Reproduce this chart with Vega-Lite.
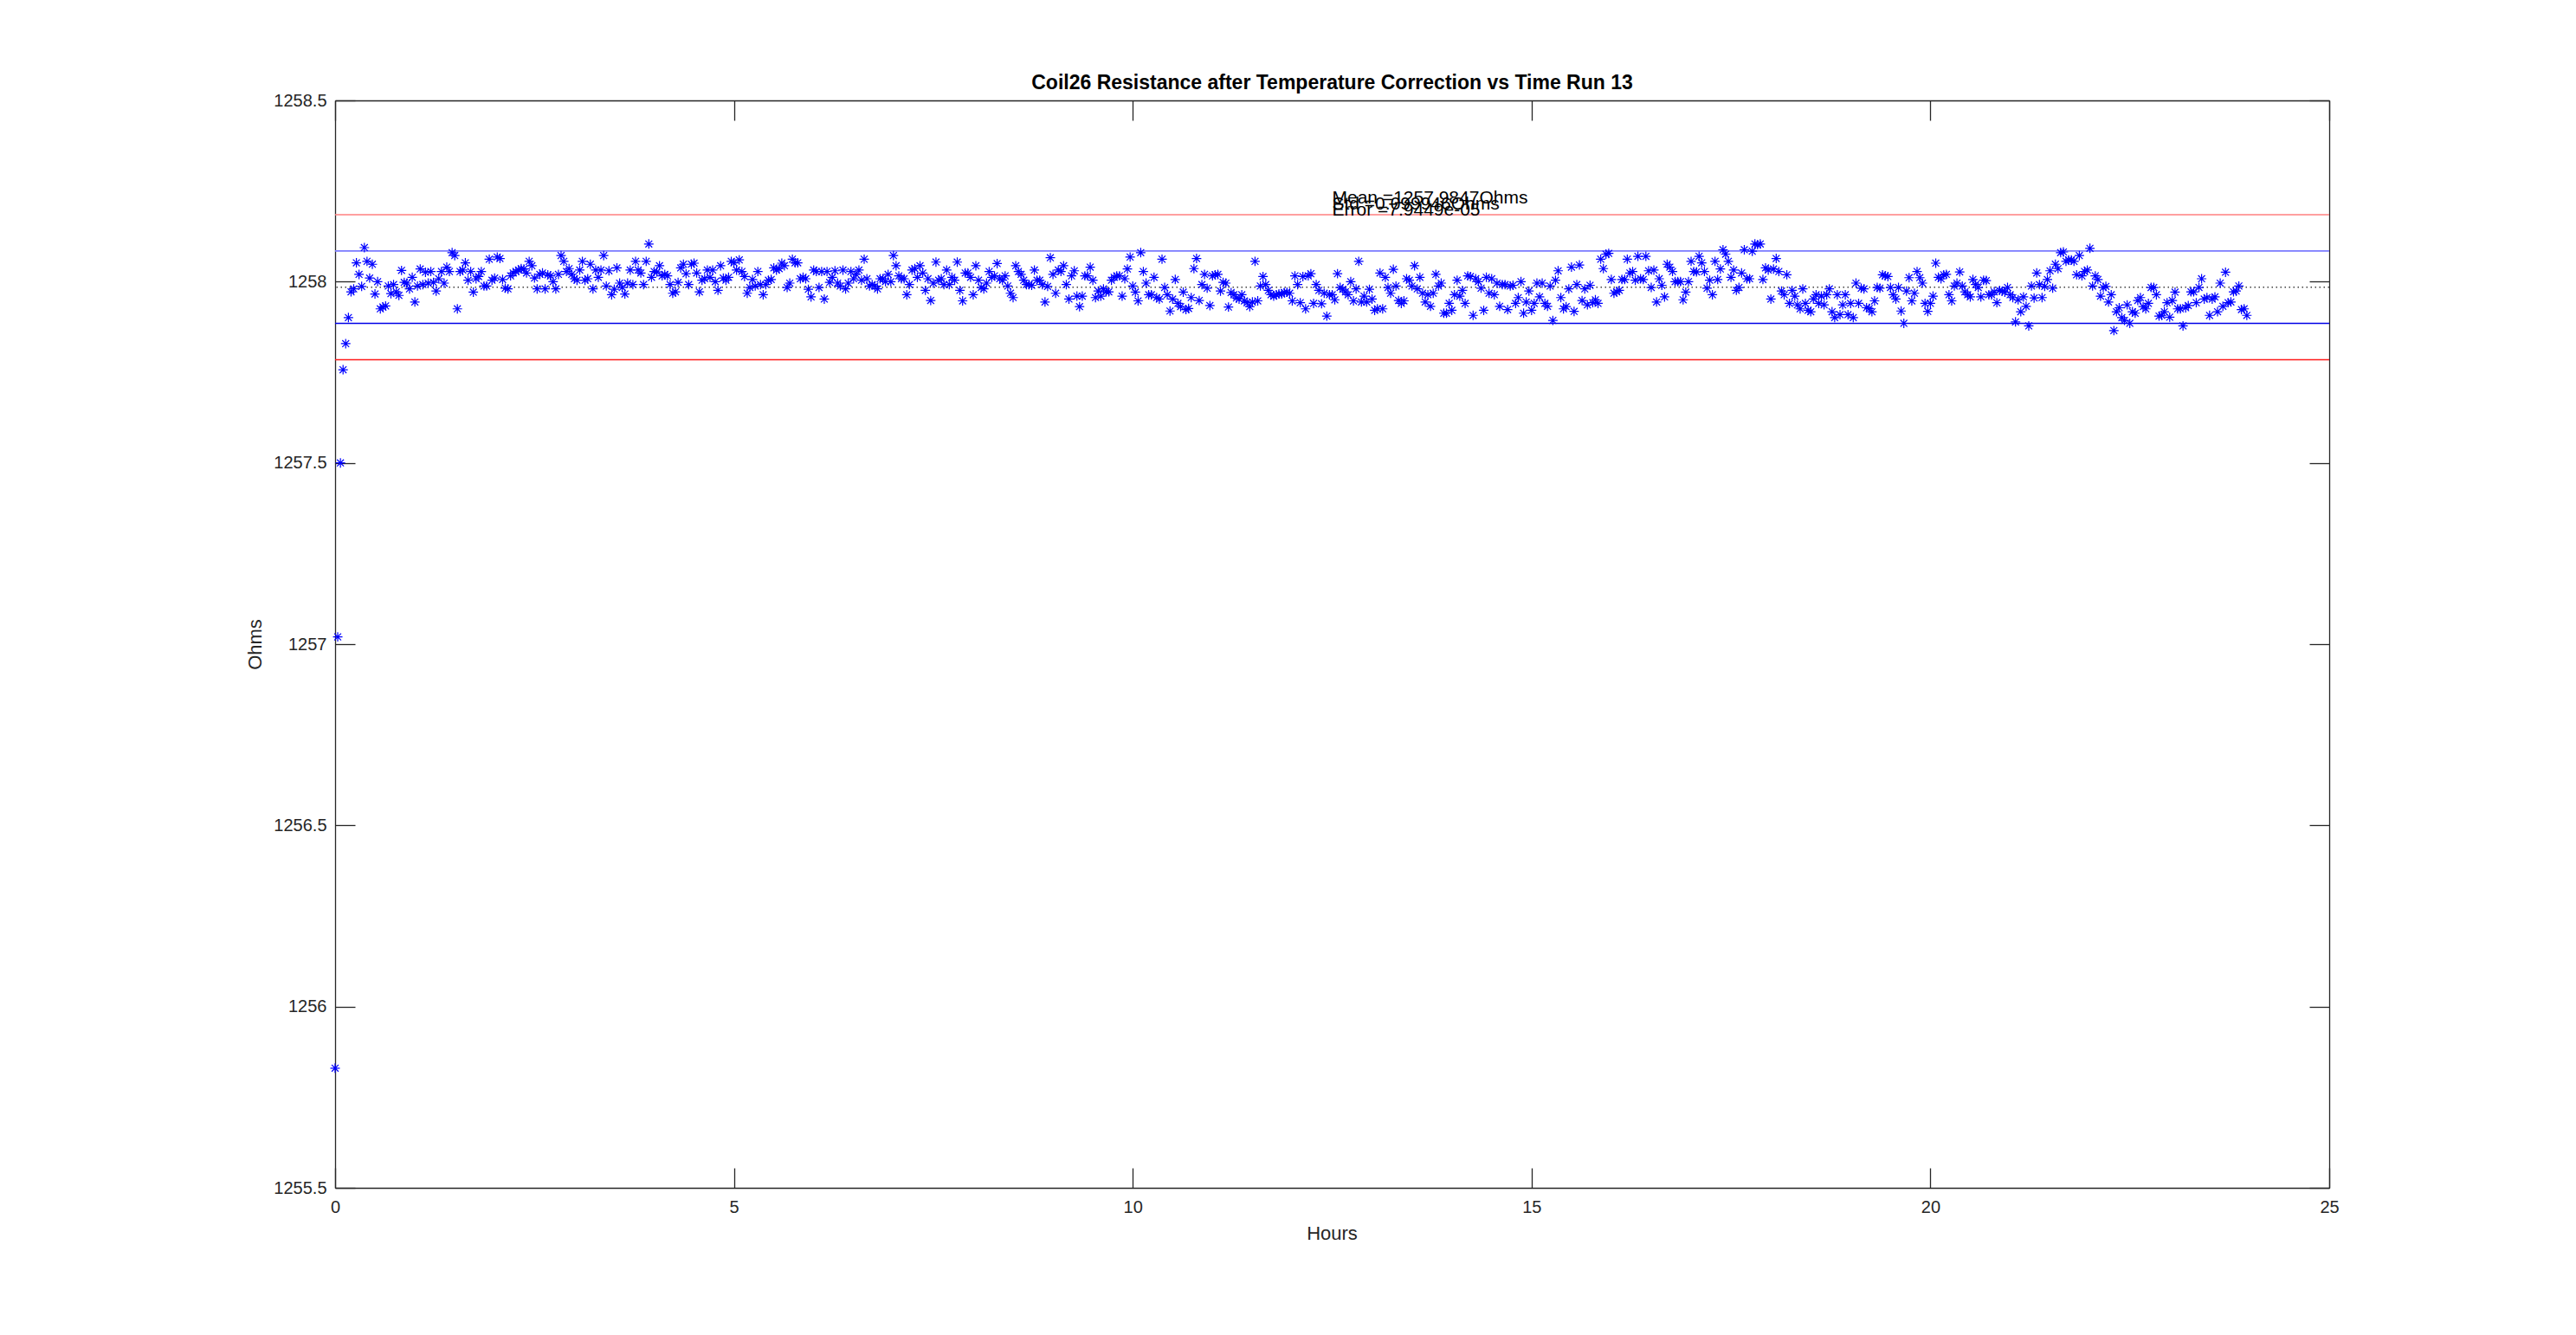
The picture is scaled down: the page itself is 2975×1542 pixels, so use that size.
{
"$schema":"https://vega.github.io/schema/vega-lite/v6.json",
"width":2303,"height":1256,
"autosize":{"type":"none"},
"padding":{"left":387,"top":116,"right":285,"bottom":170},
"background":"white",
"config":{"view":{"stroke":null},"font":"Liberation Sans"},
"title":{"text":"Coil26 Resistance after Temperature Correction vs Time Run 13","fontSize":23,"fontWeight":"bold","font":"Liberation Sans","color":"#000000","anchor":"middle","offset":13,"dy":38,"baseline":"bottom"},
"datasets":{
"lines":[{"v":1258.1846,"k":"u2"},{"v":1258.0846,"k":"u1"},{"v":1257.8848,"k":"l1"},{"v":1257.7848,"k":"l2"}],
"mean":[{"v":1257.9847}],
"notes":[{"x":12.5,"y":1258.216,"s":"Mean =1257.9847Ohms"},{"x":12.5,"y":1258.198,"s":"Std =0.099946Ohms"},{"x":12.5,"y":1258.182,"s":"Error =7.9449e-05"}],
"pts":[
{"t":0,"r":1255.83},{"t":0.033,"r":1257.02},{"t":0.067,"r":1257.50},{"t":0.1,"r":1257.757},{"t":0.133,"r":1257.829},{"t":0.167,"r":1257.901},
{"t":0.2,"r":1257.972},{"t":0.233,"r":1257.980},{"t":0.267,"r":1258.052},{"t":0.3,"r":1258.020},{"t":0.333,"r":1257.987},{"t":0.367,"r":1258.094},{"t":0.4,"r":1258.056},{"t":0.433,"r":1258.010},{"t":0.467,"r":1258.048},{"t":0.5,"r":1257.966},
{"t":0.533,"r":1258.000},{"t":0.567,"r":1257.925},{"t":0.6,"r":1257.930},{"t":0.633,"r":1257.933},{"t":0.667,"r":1257.988},{"t":0.7,"r":1257.967},{"t":0.733,"r":1257.992},{"t":0.767,"r":1257.972},{"t":0.8,"r":1257.962},{"t":0.833,"r":1258.031},
{"t":0.867,"r":1257.998},{"t":0.9,"r":1257.996},{"t":0.933,"r":1257.980},{"t":0.967,"r":1258.012},{"t":1.0,"r":1257.944},{"t":1.033,"r":1257.988},{"t":1.067,"r":1258.035},{"t":1.1,"r":1257.992},{"t":1.133,"r":1258.026},{"t":1.167,"r":1257.996},
{"t":1.2,"r":1258.028},{"t":1.233,"r":1257.998},{"t":1.267,"r":1257.974},{"t":1.3,"r":1258.008},{"t":1.333,"r":1258.028},{"t":1.367,"r":1257.996},{"t":1.4,"r":1258.040},{"t":1.433,"r":1258.028},{"t":1.467,"r":1258.080},{"t":1.5,"r":1258.072},
{"t":1.533,"r":1257.925},{"t":1.567,"r":1258.028},{"t":1.6,"r":1258.032},{"t":1.633,"r":1258.052},{"t":1.667,"r":1258.004},{"t":1.7,"r":1258.028},{"t":1.733,"r":1257.971},{"t":1.767,"r":1258.008},{"t":1.8,"r":1258.014},{"t":1.833,"r":1258.028},
{"t":1.867,"r":1257.988},{"t":1.9,"r":1257.988},{"t":1.933,"r":1258.062},{"t":1.967,"r":1258.004},{"t":2.0,"r":1258.010},{"t":2.033,"r":1258.068},{"t":2.067,"r":1258.064},{"t":2.1,"r":1258.006},{"t":2.133,"r":1257.982},{"t":2.167,"r":1257.980},
{"t":2.2,"r":1258.016},{"t":2.233,"r":1258.024},{"t":2.267,"r":1258.028},{"t":2.3,"r":1258.032},{"t":2.333,"r":1258.036},{"t":2.367,"r":1258.035},{"t":2.4,"r":1258.024},{"t":2.433,"r":1258.056},{"t":2.467,"r":1258.044},{"t":2.5,"r":1258.010},
{"t":2.533,"r":1257.980},{"t":2.567,"r":1258.020},{"t":2.6,"r":1258.024},{"t":2.633,"r":1257.980},{"t":2.667,"r":1258.019},{"t":2.7,"r":1258.016},{"t":2.733,"r":1258.000},{"t":2.767,"r":1257.980},{"t":2.8,"r":1258.020},{"t":2.833,"r":1258.072},
{"t":2.867,"r":1258.056},{"t":2.9,"r":1258.028},{"t":2.933,"r":1258.036},{"t":2.967,"r":1258.020},{"t":3.0,"r":1258.008},{"t":3.033,"r":1258.004},{"t":3.067,"r":1258.032},{"t":3.1,"r":1258.056},{"t":3.133,"r":1258.004},{"t":3.167,"r":1258.008},
{"t":3.2,"r":1258.048},{"t":3.233,"r":1257.980},{"t":3.267,"r":1258.032},{"t":3.3,"r":1258.012},{"t":3.333,"r":1258.032},{"t":3.367,"r":1258.072},{"t":3.4,"r":1257.988},{"t":3.433,"r":1258.030},{"t":3.467,"r":1257.964},
{"t":3.5,"r":1257.979},{"t":3.533,"r":1258.038},{"t":3.567,"r":1257.996},{"t":3.6,"r":1257.984},{"t":3.633,"r":1257.966},{"t":3.667,"r":1257.996},{"t":3.7,"r":1258.032},{"t":3.733,"r":1257.992},{"t":3.767,"r":1258.056},{"t":3.8,"r":1258.032},
{"t":3.833,"r":1258.024},{"t":3.867,"r":1257.992},{"t":3.9,"r":1258.056},{"t":3.933,"r":1258.104},{"t":3.967,"r":1258.012},{"t":4.0,"r":1258.028},{"t":4.033,"r":1258.027},{"t":4.067,"r":1258.044},{"t":4.1,"r":1258.016},{"t":4.133,"r":1258.020},
{"t":4.167,"r":1258.016},{"t":4.2,"r":1257.992},{"t":4.233,"r":1257.968},{"t":4.267,"r":1257.972},{"t":4.3,"r":1257.998},{"t":4.333,"r":1258.038},{"t":4.367,"r":1258.048},{"t":4.4,"r":1258.022},{"t":4.433,"r":1257.992},{"t":4.467,"r":1258.048},
{"t":4.5,"r":1258.051},{"t":4.533,"r":1258.024},{"t":4.567,"r":1257.972},{"t":4.6,"r":1258.004},{"t":4.633,"r":1258.008},{"t":4.667,"r":1258.032},{"t":4.7,"r":1258.012},{"t":4.733,"r":1258.032},{"t":4.767,"r":1258.000},{"t":4.8,"r":1257.976},
{"t":4.833,"r":1258.044},{"t":4.867,"r":1258.010},{"t":4.9,"r":1258.004},{"t":4.933,"r":1258.012},{"t":4.967,"r":1258.056},{"t":5.0,"r":1258.052},{"t":5.033,"r":1258.032},{"t":5.067,"r":1258.060},{"t":5.1,"r":1258.028},{"t":5.133,"r":1258.014},
{"t":5.167,"r":1257.968},{"t":5.2,"r":1257.984},{"t":5.233,"r":1258.006},{"t":5.267,"r":1257.988},{"t":5.3,"r":1258.028},{"t":5.333,"r":1257.992},{"t":5.367,"r":1257.964},{"t":5.4,"r":1257.992},{"t":5.433,"r":1258.004},{"t":5.467,"r":1258.006},
{"t":5.5,"r":1258.038},{"t":5.533,"r":1258.032},{"t":5.567,"r":1258.036},{"t":5.6,"r":1258.051},{"t":5.633,"r":1258.044},{"t":5.667,"r":1257.984},{"t":5.7,"r":1257.996},{"t":5.733,"r":1258.062},{"t":5.767,"r":1258.052},{"t":5.8,"r":1258.052},
{"t":5.833,"r":1258.008},{"t":5.867,"r":1258.012},{"t":5.9,"r":1258.008},{"t":5.933,"r":1257.979},{"t":5.967,"r":1257.958},{"t":6.0,"r":1258.032},{"t":6.033,"r":1258.028},{"t":6.067,"r":1257.984},{"t":6.1,"r":1258.028},{"t":6.133,"r":1257.952},
{"t":6.167,"r":1258.028},{"t":6.2,"r":1257.998},{"t":6.233,"r":1258.012},{"t":6.267,"r":1258.030},{"t":6.3,"r":1257.996},{"t":6.333,"r":1257.988},{"t":6.367,"r":1258.032},{"t":6.4,"r":1257.980},{"t":6.433,"r":1257.996},{"t":6.467,"r":1258.028},
{"t":6.5,"r":1258.008},{"t":6.533,"r":1258.020},{"t":6.567,"r":1258.032},{"t":6.6,"r":1258.004},{"t":6.633,"r":1258.062},{"t":6.667,"r":1258.008},{"t":6.7,"r":1257.988},{"t":6.733,"r":1257.992},{"t":6.767,"r":1257.988},{"t":6.8,"r":1257.980},
{"t":6.833,"r":1258.008},{"t":6.867,"r":1258.008},{"t":6.9,"r":1258.000},{"t":6.933,"r":1258.020},
{"t":6.967,"r":1258.000},{"t":7.0,"r":1258.072},{"t":7.033,"r":1258.044},{"t":7.067,"r":1258.016},{"t":7.1,"r":1258.008},{"t":7.133,"r":1258.008},{"t":7.167,"r":1257.964},{"t":7.2,"r":1257.992},{"t":7.233,"r":1258.032},{"t":7.267,"r":1258.036},
{"t":7.3,"r":1258.012},{"t":7.333,"r":1258.044},{"t":7.367,"r":1258.024},{"t":7.4,"r":1257.976},{"t":7.433,"r":1258.008},{"t":7.467,"r":1257.948},{"t":7.5,"r":1257.996},{"t":7.533,"r":1258.054},{"t":7.567,"r":1258.004},{"t":7.6,"r":1258.008},
{"t":7.633,"r":1257.992},{"t":7.667,"r":1258.032},{"t":7.7,"r":1257.992},{"t":7.733,"r":1258.012},{"t":7.767,"r":1258.004},{"t":7.8,"r":1258.054},{"t":7.833,"r":1257.976},{"t":7.867,"r":1257.947},{"t":7.9,"r":1258.024},{"t":7.933,"r":1258.024},
{"t":7.967,"r":1258.012},{"t":8.0,"r":1257.964},{"t":8.033,"r":1258.044},{"t":8.067,"r":1258.004},{"t":8.1,"r":1257.984},{"t":8.133,"r":1257.980},{"t":8.167,"r":1257.996},{"t":8.2,"r":1258.028},{"t":8.233,"r":1258.012},{"t":8.267,"r":1258.016},
{"t":8.3,"r":1258.050},{"t":8.333,"r":1258.008},{"t":8.367,"r":1258.004},{"t":8.4,"r":1258.016},{"t":8.433,"r":1257.988},{"t":8.467,"r":1257.968},{"t":8.5,"r":1257.956},{"t":8.533,"r":1258.044},{"t":8.567,"r":1258.028},{"t":8.6,"r":1258.020},
{"t":8.633,"r":1258.004},{"t":8.667,"r":1257.992},{"t":8.7,"r":1257.992},{"t":8.733,"r":1257.990},{"t":8.767,"r":1258.032},{"t":8.8,"r":1258.004},{"t":8.833,"r":1258.004},{"t":8.867,"r":1257.992},{"t":8.9,"r":1257.944},{"t":8.933,"r":1257.987},
{"t":8.967,"r":1258.066},{"t":9.0,"r":1258.020},{"t":9.033,"r":1257.968},{"t":9.067,"r":1258.032},{"t":9.1,"r":1258.028},{"t":9.133,"r":1258.044},{"t":9.167,"r":1257.992},{"t":9.2,"r":1257.952},{"t":9.233,"r":1258.016},{"t":9.267,"r":1258.030},
{"t":9.3,"r":1257.960},{"t":9.333,"r":1257.931},{"t":9.367,"r":1257.960},{"t":9.4,"r":1258.016},{"t":9.433,"r":1258.016},{"t":9.467,"r":1258.040},{"t":9.5,"r":1258.004},{"t":9.533,"r":1257.956},{"t":9.567,"r":1257.974},{"t":9.6,"r":1257.960},
{"t":9.633,"r":1257.980},{"t":9.667,"r":1257.972},{"t":9.7,"r":1257.972},{"t":9.733,"r":1258.004},{"t":9.767,"r":1258.012},{"t":9.8,"r":1258.016},{"t":9.833,"r":1258.016},{"t":9.867,"r":1257.960},{"t":9.9,"r":1258.008},{"t":9.933,"r":1258.035},
{"t":9.967,"r":1258.068},{"t":10.0,"r":1257.988},{"t":10.033,"r":1257.971},{"t":10.067,"r":1257.947},{"t":10.1,"r":1258.080},{"t":10.133,"r":1258.028},{"t":10.167,"r":1257.996},{"t":10.2,"r":1257.964},{"t":10.233,"r":1257.964},{"t":10.267,"r":1258.012},
{"t":10.3,"r":1257.956},{"t":10.333,"r":1257.952},{"t":10.367,"r":1258.062},{"t":10.4,"r":1257.984},{"t":10.433,"r":1257.964},
{"t":10.467,"r":1257.919},{"t":10.5,"r":1257.952},{"t":10.533,"r":1258.006},{"t":10.567,"r":1257.940},{"t":10.6,"r":1257.931},{"t":10.633,"r":1257.971},{"t":10.667,"r":1257.923},{"t":10.7,"r":1257.926},{"t":10.733,"r":1257.956},{"t":10.767,"r":1258.036},
{"t":10.8,"r":1258.064},{"t":10.833,"r":1257.948},{"t":10.867,"r":1257.992},{"t":10.9,"r":1258.020},{"t":10.933,"r":1257.982},{"t":10.967,"r":1257.934},{"t":11.0,"r":1258.016},{"t":11.033,"r":1258.019},{"t":11.067,"r":1258.020},{"t":11.1,"r":1257.974},
{"t":11.133,"r":1257.998},{"t":11.167,"r":1257.996},{"t":11.2,"r":1257.930},{"t":11.233,"r":1257.970},{"t":11.267,"r":1257.964},{"t":11.3,"r":1257.955},{"t":11.333,"r":1257.952},{"t":11.367,"r":1257.964},{"t":11.4,"r":1257.947},{"t":11.433,"r":1257.942},
{"t":11.467,"r":1257.931},{"t":11.5,"r":1257.944},{"t":11.533,"r":1258.056},{"t":11.567,"r":1257.947},{"t":11.6,"r":1257.988},{"t":11.633,"r":1258.014},{"t":11.667,"r":1257.992},{"t":11.7,"r":1257.976},{"t":11.733,"r":1257.964},{"t":11.767,"r":1257.960},
{"t":11.8,"r":1257.964},{"t":11.833,"r":1257.966},{"t":11.867,"r":1257.966},{"t":11.9,"r":1257.970},{"t":11.933,"r":1257.971},{"t":11.967,"r":1257.968},{"t":12.0,"r":1257.947},{"t":12.033,"r":1258.016},{"t":12.067,"r":1257.992},{"t":12.1,"r":1257.942},
{"t":12.133,"r":1258.014},{"t":12.167,"r":1257.925},{"t":12.2,"r":1258.016},{"t":12.233,"r":1258.022},{"t":12.267,"r":1257.940},{"t":12.3,"r":1257.992},{"t":12.333,"r":1257.976},{"t":12.367,"r":1257.939},{"t":12.4,"r":1257.968},{"t":12.433,"r":1257.905},
{"t":12.467,"r":1257.964},{"t":12.5,"r":1257.964},{"t":12.533,"r":1257.950},{"t":12.567,"r":1258.022},{"t":12.6,"r":1257.984},{"t":12.633,"r":1257.979},{"t":12.667,"r":1257.972},{"t":12.7,"r":1257.964},{"t":12.733,"r":1258.000},{"t":12.767,"r":1257.947},
{"t":12.8,"r":1257.980},{"t":12.833,"r":1258.056},{"t":12.867,"r":1257.944},{"t":12.9,"r":1257.960},{"t":12.933,"r":1257.944},{"t":12.967,"r":1257.979},{"t":13.0,"r":1257.952},{"t":13.033,"r":1257.921},{"t":13.067,"r":1257.925},{"t":13.1,"r":1258.024},
{"t":13.133,"r":1257.925},{"t":13.167,"r":1258.012},{"t":13.2,"r":1257.984},{"t":13.233,"r":1257.968},{"t":13.267,"r":1258.034},{"t":13.3,"r":1257.988},{"t":13.333,"r":1257.948},{"t":13.367,"r":1257.940},{"t":13.4,"r":1257.947},{"t":13.433,"r":1258.008},
{"t":13.467,"r":1258.004},{"t":13.5,"r":1257.988},{"t":13.533,"r":1258.044},{"t":13.567,"r":1257.980},{"t":13.6,"r":1258.012},{"t":13.633,"r":1257.968},{"t":13.667,"r":1257.944},{"t":13.7,"r":1257.964},{"t":13.733,"r":1257.932},{"t":13.767,"r":1257.968},
{"t":13.8,"r":1258.020},{"t":13.833,"r":1257.988},{"t":13.867,"r":1257.996},{"t":13.9,"r":1257.913},
{"t":13.933,"r":1257.913},{"t":13.967,"r":1257.940},{"t":14.0,"r":1257.921},{"t":14.033,"r":1257.964},{"t":14.067,"r":1258.004},{"t":14.1,"r":1257.960},{"t":14.133,"r":1257.976},{"t":14.167,"r":1257.940},{"t":14.2,"r":1258.016},{"t":14.233,"r":1258.014},
{"t":14.267,"r":1257.907},{"t":14.3,"r":1258.008},{"t":14.333,"r":1258.000},{"t":14.367,"r":1257.982},{"t":14.4,"r":1257.921},{"t":14.433,"r":1258.012},{"t":14.467,"r":1257.968},{"t":14.5,"r":1258.008},{"t":14.533,"r":1257.964},{"t":14.567,"r":1257.996},
{"t":14.6,"r":1257.932},{"t":14.633,"r":1257.992},{"t":14.667,"r":1257.992},{"t":14.7,"r":1257.923},{"t":14.733,"r":1257.988},{"t":14.767,"r":1257.990},{"t":14.8,"r":1257.940},{"t":14.833,"r":1257.956},{"t":14.867,"r":1258.000},{"t":14.9,"r":1257.913},
{"t":14.933,"r":1257.944},{"t":14.967,"r":1257.974},{"t":15.0,"r":1257.921},{"t":15.033,"r":1257.940},{"t":15.067,"r":1257.996},{"t":15.1,"r":1257.958},{"t":15.133,"r":1257.996},{"t":15.167,"r":1257.940},{"t":15.2,"r":1257.932},{"t":15.233,"r":1257.988},
{"t":15.267,"r":1257.893},{"t":15.3,"r":1258.004},{"t":15.333,"r":1258.030},{"t":15.367,"r":1257.956},{"t":15.4,"r":1257.925},{"t":15.433,"r":1257.931},{"t":15.467,"r":1257.980},{"t":15.5,"r":1258.040},{"t":15.533,"r":1257.918},{"t":15.567,"r":1257.992},
{"t":15.6,"r":1258.046},{"t":15.633,"r":1257.948},{"t":15.667,"r":1257.980},{"t":15.7,"r":1257.936},{"t":15.733,"r":1257.990},{"t":15.767,"r":1257.942},{"t":15.8,"r":1257.950},{"t":15.833,"r":1257.940},{"t":15.867,"r":1258.062},{"t":15.9,"r":1258.036},
{"t":15.933,"r":1258.076},{"t":15.967,"r":1258.078},{"t":16.0,"r":1258.006},{"t":16.033,"r":1257.968},{"t":16.067,"r":1257.972},{"t":16.1,"r":1257.976},{"t":16.133,"r":1258.006},{"t":16.167,"r":1258.006},{"t":16.2,"r":1258.062},{"t":16.233,"r":1258.024},
{"t":16.267,"r":1258.028},{"t":16.3,"r":1258.004},{"t":16.333,"r":1258.070},{"t":16.367,"r":1258.008},{"t":16.4,"r":1258.006},{"t":16.433,"r":1258.070},{"t":16.467,"r":1258.030},{"t":16.5,"r":1257.984},{"t":16.533,"r":1258.032},{"t":16.567,"r":1257.944},
{"t":16.6,"r":1258.008},{"t":16.633,"r":1257.990},{"t":16.667,"r":1257.958},{"t":16.7,"r":1258.048},{"t":16.733,"r":1258.040},{"t":16.767,"r":1258.028},{"t":16.8,"r":1258.000},{"t":16.833,"r":1258.000},{"t":16.867,"r":1258.000},{"t":16.9,"r":1257.950},
{"t":16.933,"r":1257.971},{"t":16.967,"r":1258.000},{"t":17.0,"r":1258.056},{"t":17.033,"r":1258.028},{"t":17.067,"r":1258.027},{"t":17.1,"r":1258.070},{"t":17.133,"r":1258.052},{"t":17.167,"r":1258.028},{"t":17.2,"r":1257.982},{"t":17.233,"r":1258.004},
{"t":17.267,"r":1257.964},{"t":17.3,"r":1258.056},{"t":17.333,"r":1258.006},{"t":17.367,"r":1258.035},
{"t":17.4,"r":1258.088},{"t":17.433,"r":1258.076},{"t":17.467,"r":1258.056},{"t":17.5,"r":1258.012},{"t":17.533,"r":1258.032},{"t":17.567,"r":1257.976},{"t":17.6,"r":1257.984},{"t":17.633,"r":1258.024},{"t":17.667,"r":1258.088},{"t":17.7,"r":1258.008},
{"t":17.733,"r":1258.008},{"t":17.767,"r":1258.084},{"t":17.8,"r":1258.104},{"t":17.833,"r":1258.102},{"t":17.867,"r":1258.104},{"t":17.9,"r":1258.006},{"t":17.933,"r":1258.038},{"t":17.967,"r":1258.032},{"t":18.0,"r":1257.952},{"t":18.033,"r":1258.035},
{"t":18.067,"r":1258.064},{"t":18.1,"r":1258.028},{"t":18.133,"r":1257.974},{"t":18.167,"r":1257.964},{"t":18.2,"r":1258.019},{"t":18.233,"r":1257.940},{"t":18.267,"r":1257.976},{"t":18.3,"r":1257.960},{"t":18.333,"r":1257.936},{"t":18.367,"r":1257.925},
{"t":18.4,"r":1257.980},{"t":18.433,"r":1257.940},{"t":18.467,"r":1257.921},{"t":18.5,"r":1257.917},{"t":18.533,"r":1257.952},{"t":18.567,"r":1257.964},{"t":18.6,"r":1257.940},{"t":18.633,"r":1257.960},{"t":18.667,"r":1257.936},{"t":18.7,"r":1257.964},
{"t":18.733,"r":1257.980},{"t":18.767,"r":1257.917},{"t":18.8,"r":1257.901},{"t":18.833,"r":1257.964},{"t":18.867,"r":1257.909},{"t":18.9,"r":1257.936},{"t":18.933,"r":1257.964},{"t":18.967,"r":1257.909},{"t":19.0,"r":1257.940},{"t":19.033,"r":1257.901},
{"t":19.067,"r":1257.996},{"t":19.1,"r":1257.940},{"t":19.133,"r":1257.982},{"t":19.167,"r":1257.980},{"t":19.2,"r":1257.928},{"t":19.233,"r":1257.926},{"t":19.267,"r":1257.917},{"t":19.3,"r":1257.947},{"t":19.333,"r":1257.984},{"t":19.367,"r":1257.982},
{"t":19.4,"r":1258.019},{"t":19.433,"r":1258.016},{"t":19.467,"r":1258.014},{"t":19.5,"r":1257.984},{"t":19.533,"r":1257.964},{"t":19.567,"r":1257.952},{"t":19.6,"r":1257.984},{"t":19.633,"r":1257.919},{"t":19.667,"r":1257.885},{"t":19.7,"r":1257.974},
{"t":19.733,"r":1258.011},{"t":19.767,"r":1257.947},{"t":19.8,"r":1257.968},{"t":19.833,"r":1258.028},{"t":19.867,"r":1258.011},{"t":19.9,"r":1257.996},{"t":19.933,"r":1257.940},{"t":19.967,"r":1257.918},{"t":20.0,"r":1257.940},{"t":20.033,"r":1257.960},
{"t":20.067,"r":1258.051},{"t":20.1,"r":1258.012},{"t":20.133,"r":1258.008},{"t":20.167,"r":1258.019},{"t":20.2,"r":1258.020},{"t":20.233,"r":1257.964},{"t":20.267,"r":1257.947},{"t":20.3,"r":1257.988},{"t":20.333,"r":1257.996},{"t":20.367,"r":1258.027},
{"t":20.4,"r":1257.988},{"t":20.433,"r":1257.972},{"t":20.467,"r":1257.964},{"t":20.5,"r":1257.958},{"t":20.533,"r":1258.006},{"t":20.567,"r":1257.992},{"t":20.6,"r":1257.984},{"t":20.633,"r":1257.958},{"t":20.667,"r":1258.004},{"t":20.7,"r":1258.003},
{"t":20.733,"r":1257.964},{"t":20.767,"r":1257.964},{"t":20.8,"r":1257.972},{"t":20.833,"r":1257.942},
{"t":20.867,"r":1257.976},{"t":20.9,"r":1257.974},{"t":20.933,"r":1257.971},{"t":20.967,"r":1257.984},{"t":21.0,"r":1257.964},{"t":21.033,"r":1257.956},{"t":21.067,"r":1257.889},{"t":21.1,"r":1257.950},{"t":21.133,"r":1257.917},{"t":21.167,"r":1257.958},
{"t":21.2,"r":1257.932},{"t":21.233,"r":1257.878},{"t":21.267,"r":1257.988},{"t":21.3,"r":1257.955},{"t":21.333,"r":1258.024},{"t":21.367,"r":1257.992},{"t":21.4,"r":1257.956},{"t":21.433,"r":1257.987},{"t":21.467,"r":1258.006},{"t":21.5,"r":1258.030},
{"t":21.533,"r":1257.982},{"t":21.567,"r":1258.048},{"t":21.6,"r":1258.036},{"t":21.633,"r":1258.080},{"t":21.667,"r":1258.082},{"t":21.7,"r":1258.056},{"t":21.733,"r":1258.060},{"t":21.767,"r":1258.060},{"t":21.8,"r":1258.056},{"t":21.833,"r":1258.019},
{"t":21.867,"r":1258.072},{"t":21.9,"r":1258.016},{"t":21.933,"r":1258.028},{"t":21.967,"r":1258.032},{"t":22.0,"r":1258.092},{"t":22.033,"r":1257.988},{"t":22.067,"r":1258.016},{"t":22.1,"r":1258.006},{"t":22.133,"r":1257.960},{"t":22.167,"r":1257.984},
{"t":22.2,"r":1257.987},{"t":22.233,"r":1257.944},{"t":22.267,"r":1257.964},{"t":22.3,"r":1257.865},{"t":22.333,"r":1257.917},{"t":22.367,"r":1257.928},{"t":22.4,"r":1257.901},{"t":22.433,"r":1257.893},{"t":22.467,"r":1257.936},{"t":22.5,"r":1257.885},
{"t":22.533,"r":1257.917},{"t":22.567,"r":1257.913},{"t":22.6,"r":1257.948},{"t":22.633,"r":1257.956},{"t":22.667,"r":1257.931},{"t":22.7,"r":1257.925},{"t":22.733,"r":1257.940},{"t":22.767,"r":1257.984},{"t":22.8,"r":1257.984},{"t":22.833,"r":1257.964},
{"t":22.867,"r":1257.905},{"t":22.9,"r":1257.907},{"t":22.933,"r":1257.917},{"t":22.967,"r":1257.942},{"t":23.0,"r":1257.902},{"t":23.033,"r":1257.948},{"t":23.067,"r":1257.971},{"t":23.1,"r":1257.925},{"t":23.133,"r":1257.925},{"t":23.167,"r":1257.878},
{"t":23.2,"r":1257.928},{"t":23.233,"r":1257.934},{"t":23.267,"r":1257.972},{"t":23.3,"r":1257.972},{"t":23.333,"r":1257.942},{"t":23.367,"r":1257.984},{"t":23.4,"r":1258.008},{"t":23.433,"r":1257.952},{"t":23.467,"r":1257.956},{"t":23.5,"r":1257.907},
{"t":23.533,"r":1257.952},{"t":23.567,"r":1257.958},{"t":23.6,"r":1257.917},{"t":23.633,"r":1257.996},{"t":23.667,"r":1257.932},{"t":23.7,"r":1258.026},{"t":23.733,"r":1257.942},{"t":23.767,"r":1257.944},{"t":23.8,"r":1257.972},{"t":23.833,"r":1257.974},
{"t":23.867,"r":1257.988},{"t":23.9,"r":1257.923},{"t":23.933,"r":1257.925},{"t":23.967,"r":1257.907}
]},
"layer":[
{"data":{"name":"lines"},"mark":{"type":"rule","strokeWidth":1.6},
 "encoding":{"y":{"field":"v","type":"quantitative","scale":{"domain":[1255.5,1258.5],"nice":false,"zero":false},"axis":null},
  "color":{"field":"k","type":"nominal","scale":{"domain":["u2","u1","l1","l2"],"range":["#ff7f7f","#7a7aff","#0000e6","#ff1a1a"]},"legend":null}}},
{"data":{"name":"mean"},"mark":{"type":"rule","strokeWidth":1.3,"strokeDash":[1.5,3.5],"color":"#404040"},
 "encoding":{"y":{"field":"v","type":"quantitative","scale":{"domain":[1255.5,1258.5],"nice":false,"zero":false},"axis":null}}},
{"data":{"name":"pts"},"mark":{"type":"point","shape":"M-1,0L1,0M0,-1L0,1M-0.72,-0.72L0.72,0.72M-0.72,0.72L0.72,-0.72","filled":false,"color":"#0000ff","strokeWidth":1.2,"size":120,"opacity":1},
 "encoding":{
  "x":{"field":"t","type":"quantitative","scale":{"domain":[0,25],"nice":false,"zero":false},
   "axis":{"orient":"bottom","values":[0,5,10,15,20,25],"title":"Hours","grid":false,"tickSize":-23,"labelPadding":35,"labelFlush":false,"labelOverlap":false,"labelFontSize":20,"labelColor":"#262626","labelFont":"Liberation Sans","tickColor":"#262626","domainColor":"#262626","domainWidth":1.3,"tickWidth":1.3,"titleFontSize":22,"titleFontWeight":"normal","titleColor":"#262626","titleFont":"Liberation Sans","titleX":1151,"titleY":52,"titleBaseline":"middle","titleAlign":"center"}},
  "y":{"field":"r","type":"quantitative","scale":{"domain":[1255.5,1258.5],"nice":false,"zero":false},
   "axis":{"orient":"left","values":[1255.5,1256,1256.5,1257,1257.5,1258,1258.5],"labelExpr":"'' + datum.value","title":"Ohms","grid":false,"tickSize":-23,"labelPadding":33,"labelFlush":false,"labelOverlap":false,"labelFontSize":20,"labelColor":"#262626","labelFont":"Liberation Sans","tickColor":"#262626","domainColor":"#262626","domainWidth":1.3,"tickWidth":1.3,"titleFontSize":22,"titleFontWeight":"normal","titleColor":"#262626","titleFont":"Liberation Sans","titleX":-93,"titleY":628,"titleAngle":270,"titleBaseline":"middle","titleAlign":"center"}}}},
{"data":{"name":"notes"},"mark":{"type":"text","align":"left","baseline":"alphabetic","fontSize":21,"font":"Liberation Sans","color":"#000000"},
 "encoding":{
  "x":{"field":"x","type":"quantitative","scale":{"domain":[0,25],"nice":false,"zero":false},
   "axis":{"orient":"top","values":[0,5,10,15,20,25],"labels":false,"title":null,"grid":false,"tickSize":-23,"tickColor":"#262626","domainColor":"#262626","domainWidth":1.3,"tickWidth":1.3}},
  "y":{"field":"y","type":"quantitative","scale":{"domain":[1255.5,1258.5],"nice":false,"zero":false},
   "axis":{"orient":"right","values":[1255.5,1256,1256.5,1257,1257.5,1258,1258.5],"labels":false,"title":null,"grid":false,"tickSize":-23,"tickColor":"#262626","domainColor":"#262626","domainWidth":1.3,"tickWidth":1.3}},
  "text":{"field":"s","type":"nominal"}}}
]
}
